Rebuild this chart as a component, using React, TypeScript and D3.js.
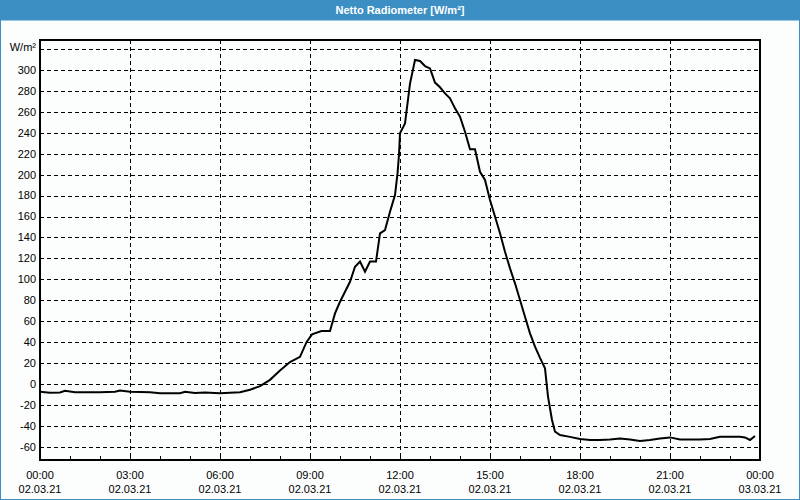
import React from "react";
import * as d3 from "d3";

const times = ["00:00","00:20","00:40","00:50","01:10","02:00","02:30","02:40","03:00","03:40","04:00","04:40","04:50","05:10","05:30","06:00","06:20","06:40","07:00","07:20","07:40","08:00","08:20","08:40","08:53","09:04","09:23","09:40","09:50","10:00","10:20","10:30","10:40","10:50","11:00","11:12","11:20","11:30","11:40","11:50","11:55","11:58","12:00","12:10","12:20","12:30","12:40","12:50","13:00","13:10","13:20","13:30","13:40","13:50","14:00","14:10","14:20","14:30","14:40","14:50","15:00","15:10","15:20","15:30","15:40","15:50","16:00","16:10","16:20","16:30","16:40","16:50","16:56","17:04","17:10","17:20","17:40","18:00","18:20","18:40","19:00","19:20","19:40","20:00","20:20","20:40","21:00","21:20","21:40","22:00","22:20","22:40","23:00","23:20","23:30","23:40","23:50"];
const values = [-7.5,-8.3,-8,-6.5,-7.8,-7.8,-7.3,-6.3,-7.5,-7.8,-8.8,-8.8,-7.5,-8.5,-8,-8.8,-8.3,-7.8,-5.5,-2,4,13,21,26,40,47.5,50.6,50.6,67.5,78.6,97.7,112,117,107.3,117,117,144,147,164.6,180.6,201,219,239.5,249,287,309.6,308.6,303.8,301.6,288,283.5,277.7,273,263.4,255.4,241,224.2,224.2,202.8,195,175.8,160,144,126.4,110.5,96.2,80.3,64.3,48.4,35.7,25,15,-12,-34.4,-45.5,-48.7,-50.5,-52.5,-53.5,-53.5,-53,-52,-53,-54.5,-53.5,-52,-51,-53,-53,-53,-52.5,-50.3,-50.3,-50.3,-51,-53.5,-49.7];

const yTicks = [-60,-40,-20,0,20,40,60,80,100,120,140,160,180,200,220,240,260,280,300];
const yUnitTick = 320;
const yUnitLabel = "W/m²";
const xMajorTimes = ["00:00","03:00","06:00","09:00","12:00","15:00","18:00","21:00","00:00"];
const xMajorDates = ["02.03.21","02.03.21","02.03.21","02.03.21","02.03.21","02.03.21","02.03.21","02.03.21","03.03.21"];
const title = "Netto Radiometer [W/m²]";
const dayStart = "2021-03-02";
const yDomain = [-72.6, 328.7];

export default function App() {
  const W = 800, H = 500;
  const L = 40, R = 760, T = 40, B = 460;
  const parse = d3.timeParse("%Y-%m-%d %H:%M");
  const t0 = parse(dayStart + " 00:00") as Date;
  const t1 = d3.timeDay.offset(t0, 1);
  const x = d3.scaleTime().domain([t0, t1]).range([L, R]);
  const y = d3.scaleLinear().domain(yDomain).range([B, T]);
  const pts = times.map((t, i) => ({ d: parse(dayStart + " " + t) as Date, v: values[i] }));
  const line = d3.line<{ d: Date; v: number }>().x(p => x(p.d)).y(p => y(p.v));
  const majors = d3.timeHour.every(3)!.range(t0, d3.timeHour.offset(t1, 1));
  const minors = d3.timeHour.range(t0, d3.timeHour.offset(t1, 1));
  const font = "Tahoma, 'Liberation Sans', Arial, sans-serif";
  const blue = "#3c8fc3";
  return (
    <svg width={W} height={H} style={{ position: "absolute", left: 0, top: 0 }} fontFamily={font} fontSize={11}>
      <rect x={0} y={0} width={W} height={H} fill="#fcfefd" />
      <rect x={0} y={0} width={W} height={20} fill={blue} />
      <rect x={0.5} y={20} width={W - 1} height={H - 20.5} fill="none" stroke={blue} strokeWidth={1} />
      <text x={W / 2} y={14} textAnchor="middle" fill="#fff" fontWeight="bold">{title}</text>
      {[...yTicks, yUnitTick].map(v => (
        <line key={"h" + v} x1={L} x2={R} y1={Math.round(y(v)) + 0.5} y2={Math.round(y(v)) + 0.5} stroke="#000" strokeDasharray="4,3" />
      ))}
      {majors.map((d, i) => (
        <line key={"v" + i} x1={Math.round(x(d)) + 0.5} x2={Math.round(x(d)) + 0.5} y1={T} y2={B} stroke="#000" strokeDasharray="4,3" />
      ))}
      {minors.map((d, i) => (
        <line key={"m" + i} x1={Math.round(x(d)) + 0.5} x2={Math.round(x(d)) + 0.5} y1={B - 4} y2={B} stroke="#000" />
      ))}
      <rect x={L} y={T} width={R - L} height={B - T} fill="none" stroke="#000" strokeWidth={2} />
      {yTicks.map(v => (
        <text key={"yl" + v} x={36} y={y(v)} dy="0.35em" textAnchor="end" fill="#000">{v}</text>
      ))}
      <text x={36} y={y(yUnitTick) - 2} dy="0.35em" textAnchor="end" fill="#000">{yUnitLabel}</text>
      {majors.map((d, i) => (
        <g key={"xl" + i}>
          <text x={x(d)} y={479} textAnchor="middle" fill="#000">{xMajorTimes[i]}</text>
          <text x={x(d)} y={493} textAnchor="middle" fill="#000">{xMajorDates[i]}</text>
        </g>
      ))}
      <path d={line(pts) || ""} fill="none" stroke="#000" strokeWidth={2} strokeLinejoin="miter" />
    </svg>
  );
}
